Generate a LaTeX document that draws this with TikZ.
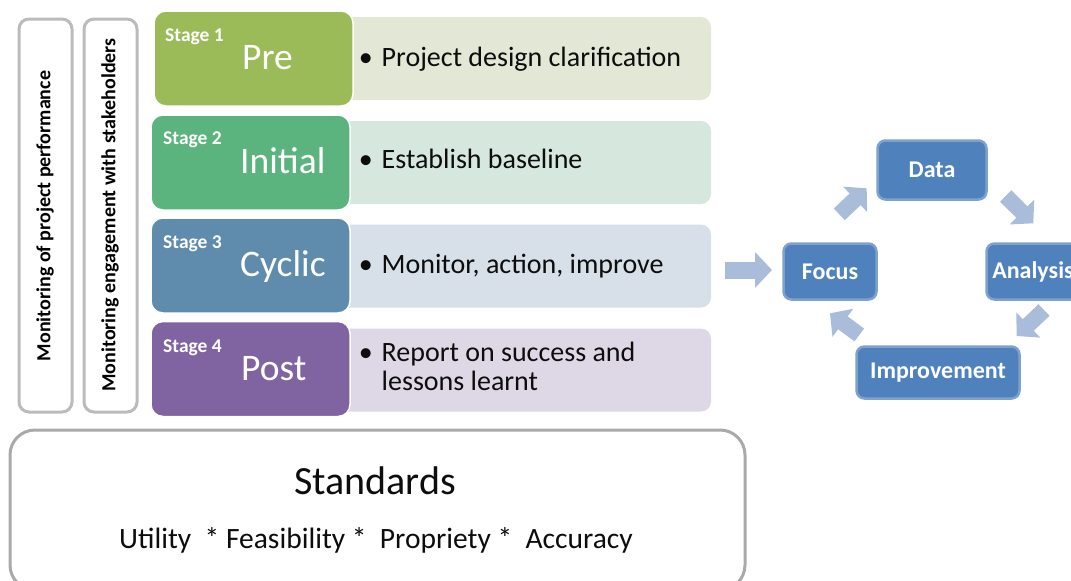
\documentclass[tikz,border=0pt]{standalone}
\usepackage{fontspec}
\setmainfont{Carlito}
\usetikzlibrary{arrows.meta}
\definecolor{gborder}{HTML}{BBBBBB}
\definecolor{sborder}{HTML}{A9A9A9}
\definecolor{darkA}{HTML}{9BBB59}
\definecolor{darkB}{HTML}{5BB37D}
\definecolor{darkC}{HTML}{5F8BAD}
\definecolor{darkD}{HTML}{8064A2}
\definecolor{lightA}{HTML}{E2E8D5}
\definecolor{lightB}{HTML}{D6E7DD}
\definecolor{lightC}{HTML}{D7DFE8}
\definecolor{lightD}{HTML}{DED8E6}
\definecolor{cycblue}{HTML}{4F81BD}
\definecolor{cycborder}{HTML}{7FA2CD}
\definecolor{arrowblue}{HTML}{A9BCDA}
\definecolor{txt}{HTML}{0D0D0D}
\tikzset{
  vbox/.style={draw=gborder, line width=3pt, fill=white, rounded corners=10pt, inner sep=0, minimum width=53pt, minimum height=393pt},
  darkbox/.style={draw=white, line width=1.5pt, rounded corners=12pt, minimum width=199pt, minimum height=95pt, inner sep=0},
  lightbox/.style={rounded corners=10pt, minimum width=380pt, minimum height=83pt, inner sep=0},
  stagelbl/.style={anchor=base west, inner sep=0, text=white, font=\bfseries\fontsize{19.5}{21}\selectfont},
  biglbl/.style={anchor=base west, inner sep=0, text=white, font=\fontsize{37.5}{40}\selectfont},
  bullettxt/.style={anchor=base west, inner sep=0, text=txt, font=\fontsize{28}{30}\selectfont},
  vtext/.style={rotate=90, inner sep=0, text=black, font=\bfseries\fontsize{20}{22}\selectfont},
  cyc/.style={fill=cycblue, draw=cycborder, line width=2.5pt, rounded corners=8pt, text=white, inner sep=0, font=\bfseries\fontsize{24}{26}\selectfont},
  barrow/.style={draw=arrowblue, line width=17pt, -{Triangle[length=17pt, width=35pt]}},
}
\begin{document}
\begin{tikzpicture}[x=1pt,y=-1pt]
\useasboundingbox (0,0) rectangle (1071,581);
\clip (0,0) rectangle (1071,581);

% left vertical boxes
\node[vbox] (perf) at (45.5,215.5) {};
\node[vbox] (eng) at (110.5,215.5) {};
\node[vtext] (perft) at (45,216) {Monitoring of project performance};
\node[vtext] (engt) at (110,215) {Monitoring engagement with stakeholders};

% light boxes
\node[lightbox, fill=lightA] (l1) at (521,58.5) {};
\node[lightbox, fill=lightB] (l2) at (521,162.5) {};
\node[lightbox, fill=lightC] (l3) at (521,266) {};
\node[lightbox, fill=lightD] (l4) at (521,370) {};

% dark stage boxes
\node[darkbox, fill=darkA] (s1) at (253.5,58.5) {};
\node[darkbox, fill=darkB] (s2) at (250.5,162.5) {};
\node[darkbox, fill=darkC] (s3) at (250.5,265.5) {};
\node[darkbox, fill=darkD] (s4) at (250.5,369) {};

\node[stagelbl] (st1) at (165,41) {Stage 1};
\node[stagelbl] (st2) at (163,144) {Stage 2};
\node[stagelbl] (st3) at (163,248) {Stage 3};
\node[stagelbl] (st4) at (163,352) {Stage 4};

\node[biglbl] (b1) at (242,69) {Pre};
\node[biglbl] (b2) at (240,173) {Initial};
\node[biglbl] (b3) at (240,276) {Cyclic};
\node[biglbl] (b4) at (241,380) {Post};

\node[bullettxt] (t1) at (381.5,66) {\llap{\textbullet\hspace{9pt}}Project design clarification};
\node[bullettxt] (t2) at (381.5,168) {\llap{\textbullet\hspace{9pt}}Establish baseline};
\node[bullettxt] (t3) at (381.5,273) {\llap{\textbullet\hspace{9pt}}Monitor, action, improve};
\node[bullettxt] (t4) at (381.5,361) {\llap{\textbullet\hspace{9pt}}Report on success and};
\node[bullettxt] (t4b) at (381.5,390) {lessons learnt};

% standards
\node[draw=sborder, line width=3pt, fill=white, rounded corners=25pt, minimum width=735pt, minimum height=160pt, inner sep=0] (std) at (377.5,510) {};
\node[text=txt, inner sep=0, font=\fontsize{40}{44}\selectfont] (stdt) at (375,481) {Standards};
\node[text=txt, inner sep=0, font=\fontsize{29.5}{32}\selectfont] (stdl) at (376,540) {Utility \ * Feasibility *\ \ Propriety *\ \ Accuracy};

% cycle
\node[cyc, minimum width=93pt, minimum height=56pt] (focus) at (830,271.5) {Focus};
\node[cyc, minimum width=109pt, minimum height=59pt] (data) at (932,170) {Data};
\node[cyc, minimum width=93pt, minimum height=56pt] (analysis) at (1033,271.5) {Analysis};
\node[cyc, minimum width=163pt, minimum height=52pt] (impr) at (938,372.5) {Improvement};

\coordinate (inS) at (725,270);
\coordinate (inE) at (772,270);
\coordinate (a1s) at (839.3,214.3);
\coordinate (a1e) at (866.7,188.3);
\coordinate (a2s) at (1005.7,196);
\coordinate (a2e) at (1033.3,223.3);
\coordinate (a3s) at (1044,310);
\coordinate (a3e) at (1016.7,336);
\coordinate (a4s) at (859.3,335);
\coordinate (a4e) at (830,313.3);

\draw[barrow] (inS) -- (inE);
\draw[barrow, line width=16pt, -{Triangle[length=16pt, width=34pt]}] (a1s) -- (a1e);
\draw[barrow, line width=16pt, -{Triangle[length=16pt, width=34pt]}] (a2s) -- (a2e);
\draw[barrow, line width=16pt, -{Triangle[length=16pt, width=34pt]}] (a3s) -- (a3e);
\draw[barrow, line width=16pt, -{Triangle[length=16pt, width=34pt]}] (a4s) -- (a4e);
\end{tikzpicture}
\end{document}
